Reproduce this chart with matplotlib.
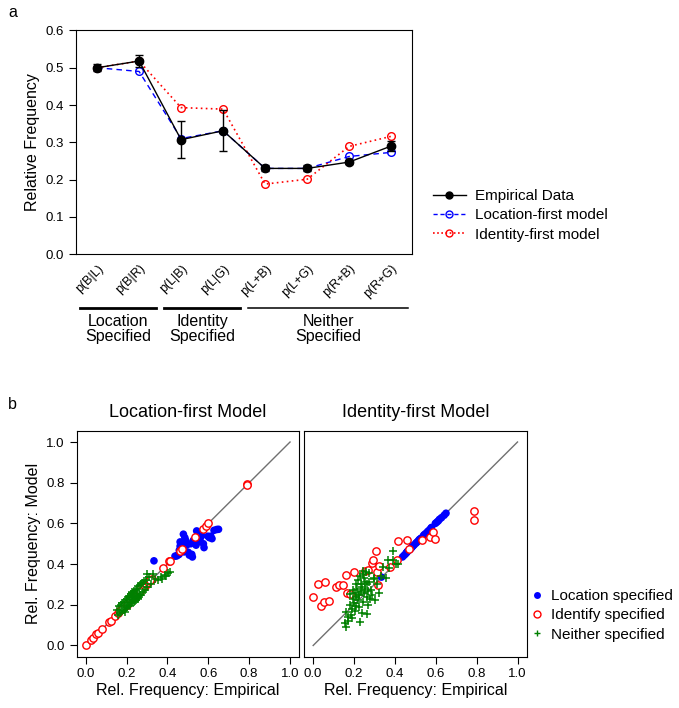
import matplotlib
matplotlib.use("Agg")
import matplotlib.pyplot as plt
import matplotlib.transforms as mtransforms
from matplotlib.lines import Line2D

plt.rcParams['font.family'] = ['Liberation Sans', 'DejaVu Sans']
plt.rcParams['xtick.direction'] = 'out'
plt.rcParams['ytick.direction'] = 'out'

# ---------- Panel a data ----------
cond_labels = ['p(B|L)', 'p(B|R)', 'p(L|B)', 'p(L|G)', 'p(L+B)', 'p(L+G)', 'p(R+B)', 'p(R+G)']
empirical = [0.500, 0.518, 0.307, 0.331, 0.230, 0.230, 0.247, 0.290]
empirical_err = [0.010, 0.016, 0.049, 0.055, 0.008, 0.008, 0.006, 0.013]
location_first = [0.500, 0.490, 0.310, 0.331, 0.230, 0.230, 0.262, 0.273]
identity_first = [0.500, 0.518, 0.393, 0.389, 0.188, 0.201, 0.289, 0.316]
groups = [('Location\nSpecified', 1, 2, 2.0), ('Identity\nSpecified', 3, 4, 2.0),
          ('Neither\nSpecified', 5, 8, 1.1)]

# ---------- Panel b data (empirical, location-first model, identity-first model) ----------
blue_emp = [0.334, 0.437, 0.445, 0.452, 0.457, 0.458, 0.462, 0.462, 0.470, 0.475, 0.478, 0.481,
            0.485, 0.489, 0.494, 0.502, 0.507, 0.514, 0.519, 0.522, 0.527, 0.540, 0.543, 0.550,
            0.560, 0.568, 0.576, 0.579, 0.598, 0.605, 0.612, 0.618, 0.628, 0.641, 0.650]
blue_loc = [0.416, 0.439, 0.440, 0.445, 0.448, 0.468, 0.509, 0.488, 0.470, 0.500, 0.547, 0.460,
            0.530, 0.517, 0.493, 0.458, 0.444, 0.500, 0.448, 0.435, 0.517, 0.493, 0.563, 0.510,
            0.525, 0.540, 0.500, 0.481, 0.537, 0.530, 0.537, 0.525, 0.566, 0.570, 0.571]
blue_id = [0.336, 0.435, 0.443, 0.450, 0.456, 0.458, 0.462, 0.463, 0.470, 0.474, 0.478, 0.480,
           0.485, 0.490, 0.494, 0.502, 0.507, 0.514, 0.520, 0.522, 0.527, 0.540, 0.544, 0.550,
           0.560, 0.567, 0.576, 0.580, 0.600, 0.606, 0.612, 0.620, 0.628, 0.640, 0.650]

red_emp = [0.000, 0.026, 0.036, 0.052, 0.059, 0.078, 0.114, 0.124, 0.144, 0.160, 0.165, 0.180,
           0.200, 0.252, 0.268, 0.289, 0.294, 0.307, 0.310, 0.324, 0.317, 0.376, 0.410, 0.413,
           0.461, 0.469, 0.533, 0.572, 0.587, 0.598, 0.789, 0.789]
red_loc = [0.000, 0.026, 0.038, 0.055, 0.062, 0.080, 0.113, 0.122, 0.144, 0.160, 0.167, 0.180,
           0.200, 0.255, 0.270, 0.290, 0.300, 0.310, 0.320, 0.326, 0.320, 0.380, 0.414, 0.414,
           0.465, 0.475, 0.534, 0.573, 0.586, 0.600, 0.794, 0.790]
red_id = [0.239, 0.300, 0.195, 0.213, 0.313, 0.218, 0.288, 0.295, 0.298, 0.347, 0.260, 0.252,
          0.360, 0.367, 0.373, 0.406, 0.422, 0.465, 0.363, 0.393, 0.295, 0.386, 0.422, 0.512,
          0.516, 0.476, 0.516, 0.534, 0.556, 0.524, 0.661, 0.615]

green_emp = [0.155, 0.160, 0.163, 0.168, 0.172, 0.178, 0.180, 0.185, 0.188, 0.190, 0.195, 0.196,
             0.200, 0.203, 0.205, 0.208, 0.210, 0.212, 0.215, 0.218, 0.220, 0.222, 0.225, 0.225,
             0.228, 0.230, 0.232, 0.235, 0.237, 0.240, 0.242, 0.245, 0.245, 0.248, 0.250, 0.253,
             0.255, 0.258, 0.261, 0.261, 0.265, 0.268, 0.270, 0.272, 0.275, 0.280, 0.285, 0.290,
             0.297, 0.302, 0.310, 0.320, 0.330, 0.300, 0.340, 0.355, 0.368, 0.372, 0.389, 0.393,
             0.405, 0.413]
green_loc = [0.175, 0.150, 0.195, 0.158, 0.200, 0.168, 0.210, 0.175, 0.215, 0.165, 0.225, 0.185,
             0.230, 0.190, 0.240, 0.195, 0.245, 0.200, 0.240, 0.195, 0.255, 0.210, 0.245, 0.265,
             0.215, 0.260, 0.225, 0.215, 0.270, 0.235, 0.220, 0.275, 0.240, 0.225, 0.280, 0.245,
             0.230, 0.290, 0.255, 0.240, 0.295, 0.250, 0.300, 0.250, 0.305, 0.265, 0.315, 0.275,
             0.320, 0.285, 0.335, 0.300, 0.350, 0.350, 0.325, 0.320, 0.335, 0.329, 0.345, 0.340,
             0.355, 0.362]
green_id = [0.111, 0.165, 0.092, 0.140, 0.120, 0.200, 0.252, 0.150, 0.133, 0.180, 0.272, 0.230,
            0.210, 0.260, 0.170, 0.240, 0.300, 0.195, 0.280, 0.225, 0.320, 0.250, 0.190, 0.247,
            0.340, 0.116, 0.270, 0.300, 0.160, 0.288, 0.350, 0.214, 0.367, 0.330, 0.260, 0.313,
            0.280, 0.360, 0.157, 0.239, 0.300, 0.200, 0.268, 0.310, 0.354, 0.230, 0.275, 0.250,
            0.329, 0.223, 0.300, 0.259, 0.340, 0.330, 0.386, 0.330, 0.422, 0.380, 0.465, 0.420,
            0.399, 0.400]

fig = plt.figure(figsize=(6.79, 7.08), dpi=100)

# ===== Panel a =====
ax = fig.add_axes([0.112, 0.641, 0.495, 0.316])
xs = list(range(1, len(cond_labels) + 1))
ax.plot(xs, location_first, color='blue', ls=(0, (4, 3)), lw=1, marker='o', ms=5.5,
        mfc='none', mec='blue', mew=1, zorder=2)
ax.plot(xs, identity_first, color='red', ls=(0, (1, 2)), lw=1.2, marker='o', ms=5.5,
        mfc='none', mec='red', mew=1, zorder=2)
ax.errorbar(xs, empirical, yerr=empirical_err, color='black', lw=1, marker='o', ms=6,
            capsize=3, elinewidth=1, capthick=1, zorder=3)
ax.set_xlim(0.5, 8.5)
ax.set_ylim(0, 0.6)
ax.set_yticks([0.0, 0.1, 0.2, 0.3, 0.4, 0.5, 0.6])
ax.set_yticklabels(['0.0', '0.1', '0.2', '0.3', '0.4', '0.5', '0.6'], fontsize=9.5)
ax.set_xticks(xs)
ax.set_xticklabels(cond_labels, rotation=45, ha='right', va='top', fontsize=9,
                   rotation_mode='anchor')
ax.tick_params(axis='x', length=0, pad=6)
ax.tick_params(axis='y', length=5)
ax.set_ylabel('Relative Frequency', fontsize=11.5)

# group brackets below tick labels
trans = mtransforms.blended_transform_factory(ax.transData, fig.transFigure)
for name, i0, i1, lw in groups:
    ax.add_line(Line2D([i0 - 0.4, i1 + 0.4], [0.565, 0.565], color='black', lw=lw,
                       transform=trans, clip_on=False))
    ax.text((i0 + i1) / 2, 0.557, name, transform=trans, ha='center', va='top',
            fontsize=11.5, linespacing=1.05)

leg_handles = [
    Line2D([], [], color='black', lw=1, marker='o', ms=5),
    Line2D([], [], color='blue', ls=(0, (3, 2)), lw=1, marker='o', ms=5, mfc='none'),
    Line2D([], [], color='red', ls=(0, (1, 1.5)), lw=1.2, marker='o', ms=5, mfc='none'),
]
fig.legend(leg_handles, ['Empirical Data', 'Location-first model', 'Identity-first model'],
           loc='center left', bbox_to_anchor=(0.617, 0.696), frameon=False, fontsize=11,
           numpoints=1, handlelength=2.2, handletextpad=0.6, labelspacing=0.35)

fig.text(0.012, 0.983, 'a', fontsize=11.5, va='center')
fig.text(0.012, 0.428, 'b', fontsize=11.5, va='center')

# ===== Panel b =====
axL = fig.add_axes([0.1127, 0.0725, 0.328, 0.319])
axR = fig.add_axes([0.4477, 0.0725, 0.328, 0.319])
for axb, blue_y, red_y, green_y, title in [
        (axL, blue_loc, red_loc, green_loc, 'Location-first Model'),
        (axR, blue_id, red_id, green_id, 'Identity-first Model')]:
    axb.plot([0, 1], [0, 1], color='#707070', lw=1, zorder=1)
    axb.scatter(blue_emp, blue_y, marker='o', s=30, color='blue', edgecolors='none', zorder=2)
    axb.scatter(red_emp, red_y, marker='o', s=28, facecolors='white', edgecolors='red',
                linewidths=1.0, zorder=3)
    axb.scatter(green_emp, green_y, marker='+', s=32, color='#008000', linewidths=1.1, zorder=4)
    axb.set_xlim(-0.045, 1.045)
    axb.set_ylim(-0.055, 1.055)
    axb.set_xticks([0, 0.2, 0.4, 0.6, 0.8, 1.0])
    axb.set_xticklabels(['0.0', '0.2', '0.4', '0.6', '0.8', '1.0'], fontsize=9.5)
    axb.tick_params(axis='x', length=5)
    axb.set_xlabel('Rel. Frequency: Empirical', fontsize=11.5, labelpad=2)
    axb.set_title(title, fontsize=13, pad=10)

axL.set_yticks([0, 0.2, 0.4, 0.6, 0.8, 1.0])
axL.set_yticklabels(['0.0', '0.2', '0.4', '0.6', '0.8', '1.0'], fontsize=9.5)
axL.tick_params(axis='y', length=5)
axL.set_ylabel('Rel. Frequency: Model', fontsize=11.5)
axR.set_yticks([])

leg2 = [
    Line2D([], [], ls='none', marker='o', ms=5, color='blue', mec='none'),
    Line2D([], [], ls='none', marker='o', ms=5, mfc='white', mec='red', mew=1),
    Line2D([], [], ls='none', marker='+', ms=5, color='#008000', mew=1),
]
fig.legend(leg2, ['Location specified', 'Identify specified', 'Neither specified'],
           loc='center left', bbox_to_anchor=(0.762, 0.131), frameon=False, fontsize=11,
           numpoints=1, handlelength=0.8, handletextpad=0.5, labelspacing=0.35)

fig.savefig('out.png', dpi=100, facecolor='white')
